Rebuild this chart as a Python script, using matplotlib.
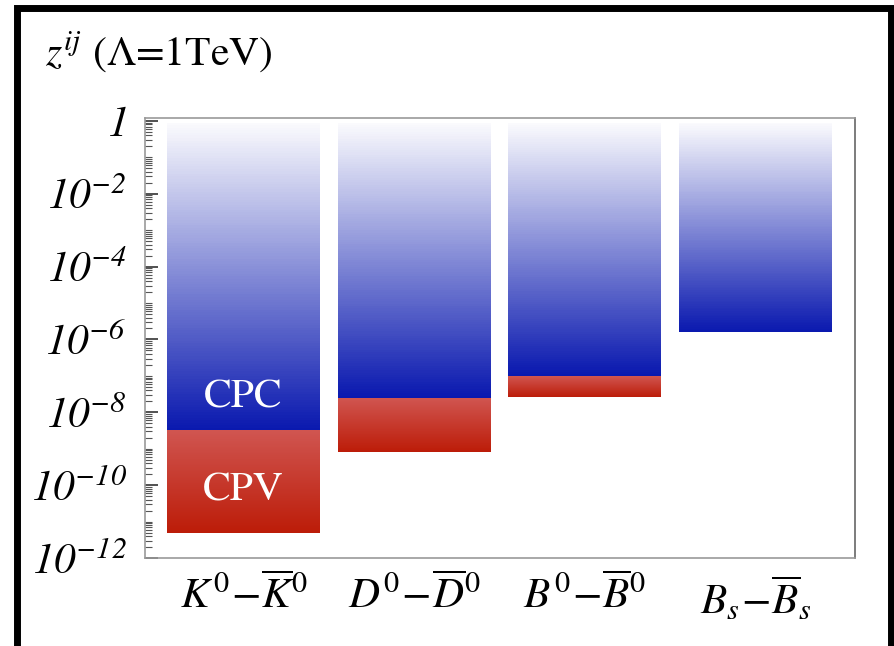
import numpy as np
import matplotlib
matplotlib.use("Agg")
import matplotlib.pyplot as plt
from matplotlib.colors import LinearSegmentedColormap
from matplotlib.patches import Rectangle
from matplotlib.ticker import FixedLocator, LogLocator, NullFormatter

plt.rcParams['font.family'] = ['STIXGeneral', 'DejaVu Serif']
plt.rcParams['mathtext.fontset'] = 'custom'
plt.rcParams['mathtext.rm'] = 'STIXGeneral'
plt.rcParams['mathtext.it'] = 'STIXGeneral:italic'
plt.rcParams['mathtext.bf'] = 'STIXGeneral:bold'
plt.rcParams['mathtext.sf'] = 'STIXGeneral:italic'

# ---- data ----
categories = [r'$K^0\!-\!\overline{K}^0$', r'$D^0\!-\!\overline{D}^0$',
              r'$B^0\!-\!\overline{B}^0$', r'$B_s\!-\!\overline{B}_s$']
bar_top = [0.9, 0.9, 0.9, 0.9]
cpc_bound = [3.2e-9, 2.5e-8, 1.0e-7, 1.6e-6]
cpv_bound = [4.8e-12, 8.1e-10, 2.6e-8, None]
ytick_vals = [1e0, 1e-2, 1e-4, 1e-6, 1e-8, 1e-10, 1e-12]
ytick_labels = [r'$\mathsf{1}$', r'$\mathsf{10}^{\mathsf{-2}}$', r'$\mathsf{10}^{\mathsf{-4}}$',
                r'$\mathsf{10}^{\mathsf{-6}}$', r'$\mathsf{10}^{\mathsf{-8}}$',
                r'$\mathsf{10}^{\mathsf{-10}}$', r'$\mathsf{10}^{\mathsf{-12}}$']

blue_cmap = LinearSegmentedColormap.from_list(
    'bl', [(0.0, (10/255, 25/255, 175/255)), (1.0, (250/255, 250/255, 253/255))])
red_cmap = LinearSegmentedColormap.from_list(
    'rd', [(0.0, (188/255, 28/255, 8/255)), (1.0, (208/255, 85/255, 80/255))])

W, H = 894, 646
fig = plt.figure(figsize=(W/100, H/100), dpi=100)
ax = fig.add_axes([145/W, 1-558/H, (855-145)/W, (558-118)/H])
ax.set_yscale('log')
ax.set_ylim(1e-12, 10**0.08)
ax.set_xlim(-0.577, 3.583)

width = 0.896
n = 120
for i in range(len(categories)):
    x0, x1 = i - width/2, i + width/2
    ye = np.logspace(np.log10(cpc_bound[i]), np.log10(bar_top[i]), n + 1)
    c = np.linspace(0, 1, n).reshape(-1, 1)
    ax.pcolormesh([x0, x1], ye, c, cmap=blue_cmap, vmin=0, vmax=1,
                  shading='flat', rasterized=True)
    if cpv_bound[i] is not None:
        ye2 = np.logspace(np.log10(cpv_bound[i]), np.log10(cpc_bound[i]), n + 1)
        ax.pcolormesh([x0, x1], ye2, c, cmap=red_cmap, vmin=0, vmax=1,
                      shading='flat', rasterized=True)

ax.text(0, 10**-7.6, 'CPC', color='white', fontsize=30, ha='center', va='center')
ax.text(0, 10**-10.15, 'CPV', color='white', fontsize=30, ha='center', va='center')

ax.set_xticks(range(len(categories)))
ax.set_xticklabels(categories, fontsize=31)
ax.tick_params(axis='x', length=0, pad=12)

ax.yaxis.set_major_locator(FixedLocator(ytick_vals))
ax.set_yticklabels(ytick_labels, fontsize=31)
ax.yaxis.set_minor_locator(LogLocator(base=10, subs=np.arange(1, 10), numticks=100))
ax.yaxis.set_minor_formatter(NullFormatter())
ax.tick_params(axis='y', which='major', direction='in', length=9, width=1.2,
               color='#333333', pad=13)
ax.tick_params(axis='y', which='minor', direction='in', length=5, width=0.8,
               color='#555555')

for s in ax.spines.values():
    s.set_color('#999999')
    s.set_linewidth(1.2)
ax.spines['right'].set_color('#666666')

fig.text(45/W, 1-66/H, r'$z^{ij}$ ($\Lambda$=1TeV)', fontsize=30, va='baseline', ha='left')

frame = Rectangle((17/W, -0.05), (891-17)/W, 1.05-8.5/H, transform=fig.transFigure,
                  fill=False, edgecolor='black', linewidth=5, clip_on=False)
fig.patches.append(frame)

fig.savefig('out.png', dpi=100)
